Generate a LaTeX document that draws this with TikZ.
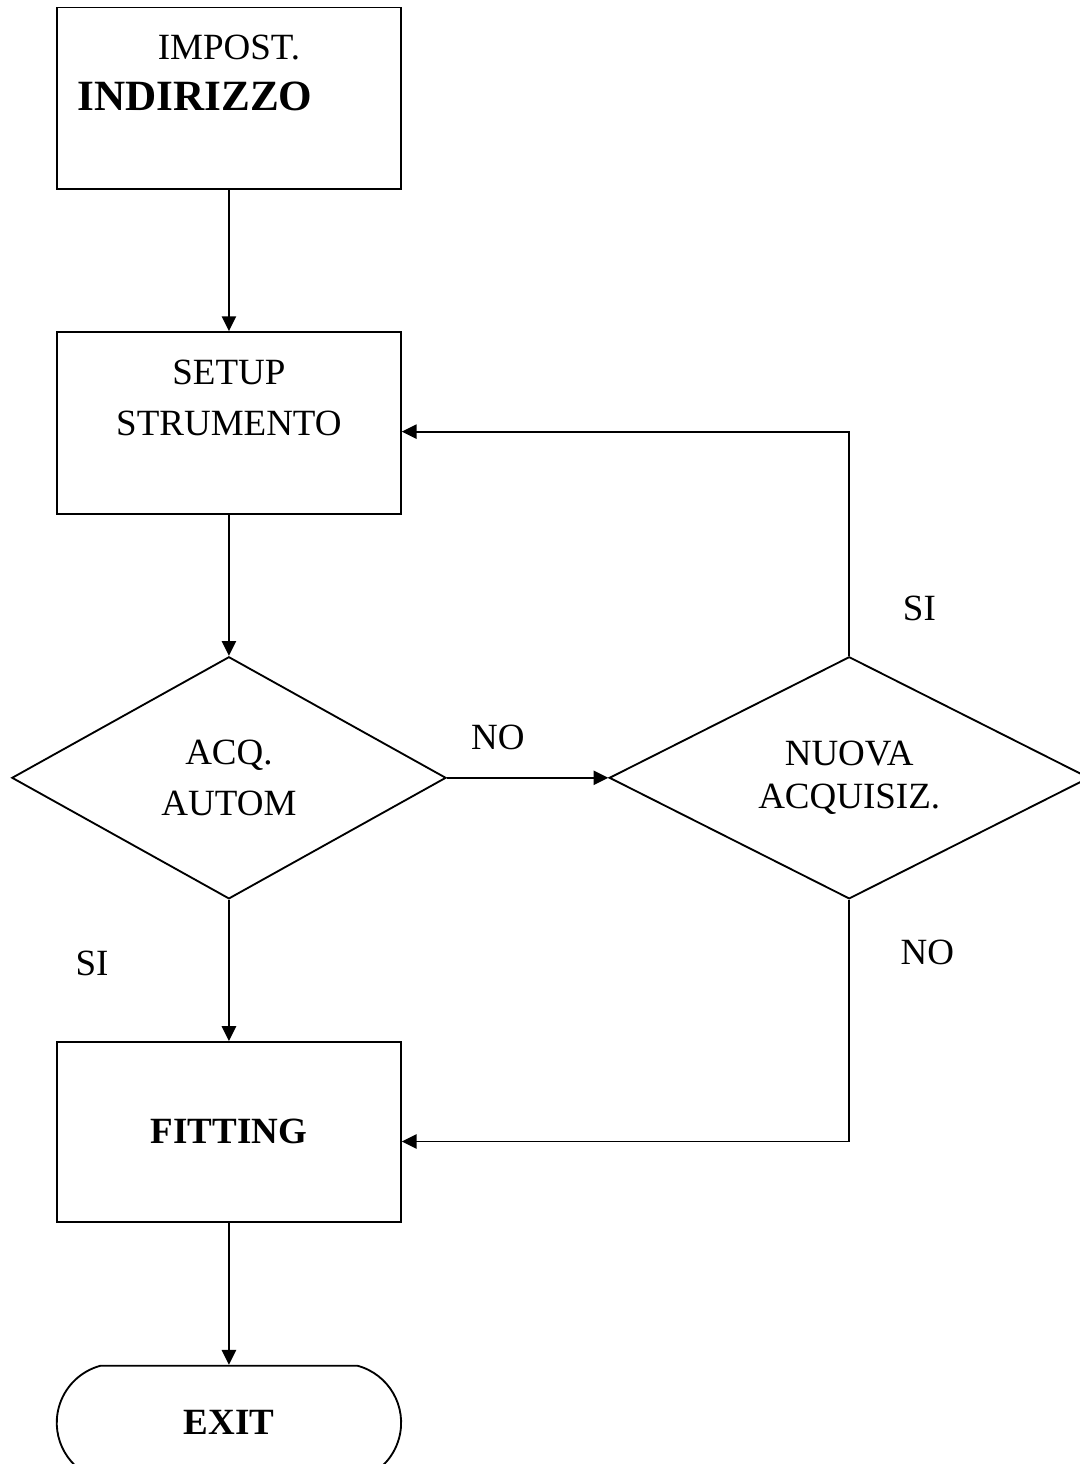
\documentclass[tikz,border=0pt]{standalone}
\usepackage{fontspec}
\setmainfont{Liberation Serif}
\usetikzlibrary{positioning,shapes.geometric,shapes.misc,arrows.meta}

\begin{document}
\begin{tikzpicture}[
            node distance=1.61cm,
            font=\fontsize{12}{16.5}\selectfont,
            box/.style={rectangle, draw, line width=0.6pt, minimum width=3.92cm, minimum height=2.07cm, align=center},
            decision/.style={diamond, aspect=2, draw, line width=0.6pt, minimum width=4.95cm, minimum height=2.76cm, align=center, inner sep=0pt},
            term/.style={rounded rectangle, rounded rectangle arc length=150, draw, line width=0.6pt, minimum width=4.16cm, minimum height=1.3cm},
            arrow/.style={-{Triangle[length=4.8pt,width=4.6pt]}, line width=0.6pt},
            lbl/.style={inner sep=0pt}
            ]

            \useasboundingbox (0,0) rectangle (12.31,-16.69);

            % Main steps
            \node[box] (impost) at (2.61,-1.12) {IMPOST.\\{\fontsize{14}{16.5}\selectfont\bfseries INDIRIZZO}\kern22pt\\\mbox{}};
            \node[box, below=of impost] (setup) {SETUP\\STRUMENTO\\\mbox{}};
            \node[decision, below=of setup] (acq) {ACQ.\\AUTOM};
            \node[decision, right=1.84cm of acq, minimum width=5.47cm] (nuova) {NUOVA\\[-2.5pt]ACQUISIZ.};
            \node[box, below=of acq, minimum height=2.05cm] (fit) {\bfseries FITTING};
            \node[term, below=1.62cm of fit] (exit) {\bfseries EXIT};

            % Arrows
            \draw[arrow] (impost) -- (setup);
            \draw[arrow] (setup) -- (acq);
            \draw[arrow] (acq) -- (nuova);
            \draw[arrow] (acq) -- (fit);
            \draw[arrow] (fit) -- (exit);
            \draw[arrow] (nuova.north) |- ([yshift=-0.1cm]setup.east);
            \draw[arrow] (nuova.south) |- ([yshift=-0.11cm]fit.east);

            % Branch labels
            \node[lbl, xshift=0.58cm, yshift=0.46cm] (no1) at (acq.east) {NO};
            \node[lbl, xshift=-1.56cm, yshift=-0.72cm] (si1) at (acq.south) {SI};
            \node[lbl, xshift=0.80cm, yshift=0.54cm] (si2) at (nuova.north) {SI};
            \node[lbl, xshift=0.89cm, yshift=-0.60cm] (no2) at (nuova.south) {NO};

        \end{tikzpicture}
\end{document}
